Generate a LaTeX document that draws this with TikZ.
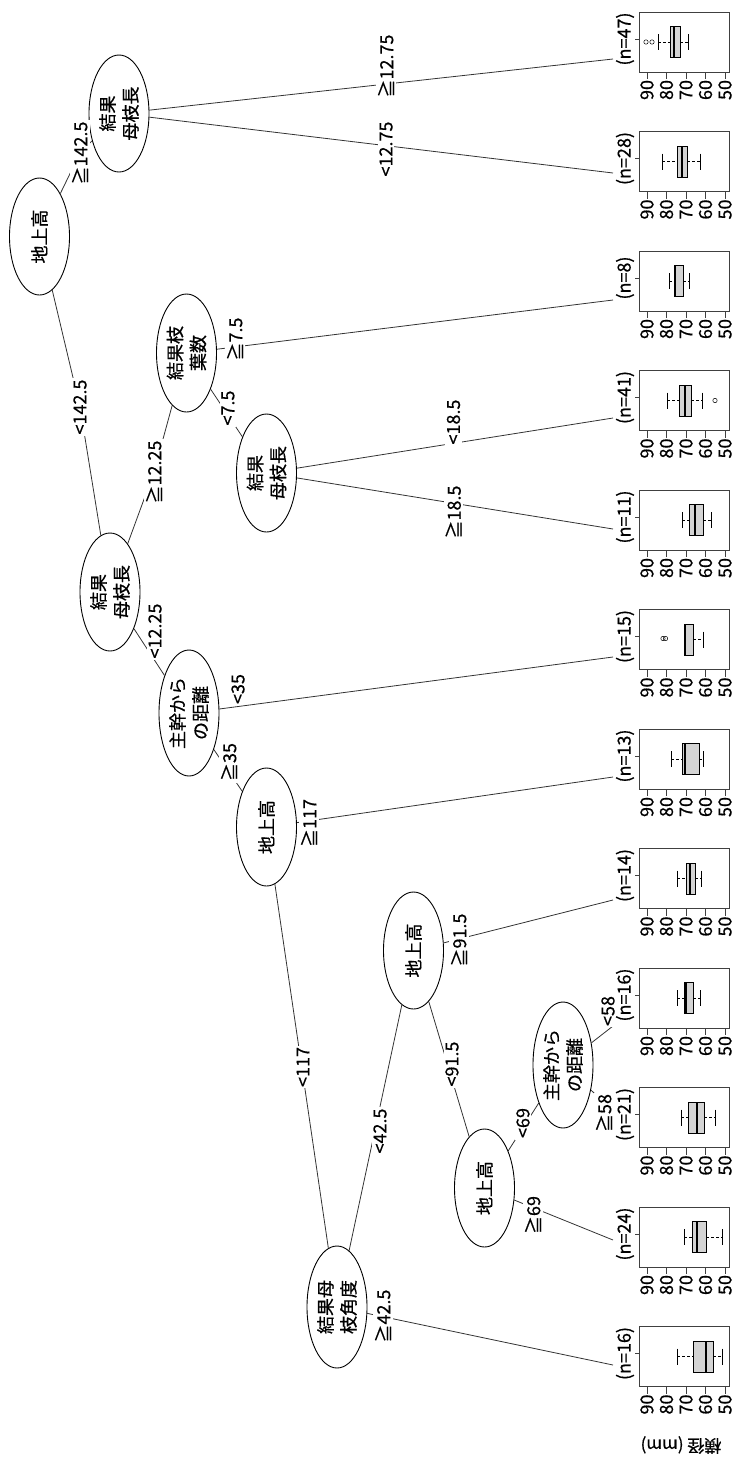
\documentclass[tikz,border=0pt]{standalone}
\usepackage{fontspec}
\setmainfont{Noto Sans CJK JP}[FakeBold=0.6]
\usetikzlibrary{shapes.geometric,backgrounds}
\begin{document}
\begin{tikzpicture}[x=1pt,y=-1pt,
  every node/.style={font=\fontsize{18pt}{23pt}\selectfont},
  edge/.style={draw=black!80, line width=0.8pt},
  lbl/.style={rotate=90, fill=white, inner sep=1.5pt},
  split/.style={ellipse, draw=black, line width=0.9pt, fill=white, rotate=90,
    align=center, inner sep=0pt, minimum height=60pt},
  frame/.style={draw=black!75, line width=0.8pt},
  whisk/.style={line width=0.8pt, dash pattern=on 3pt off 2pt},
  boxp/.style={draw=black, line width=0.8pt, fill=black!17},
  med/.style={line width=2pt},
  outl/.style={draw=black, line width=0.5pt},
  ticklab/.style={rotate=90, inner sep=0pt, font=\fontsize{18pt}{20pt}\selectfont},
]
\useasboundingbox (0,0) rectangle (737,1457);

% inner nodes
\node[split, minimum width=117pt] (r)   at (39.5,236.5) {地上高};
\node[split, minimum width=117pt] (n2)  at (119,113.5)  {結果\\母枝長};
\node[split, minimum width=118pt] (n3)  at (110,592)    {結果\\母枝長};
\node[split, minimum width=118pt] (n4)  at (186.5,353)  {結果枝\\葉数};
\node[split, minimum width=118pt] (n5)  at (266.5,473)  {結果\\母枝長};
\node[split, minimum width=126pt] (n6)  at (189,713)    {主幹から\\の距離};
\node[split, minimum width=118pt] (n7)  at (266.5,827)  {地上高};
\node[split, minimum width=117pt] (n8)  at (413.5,950.5){地上高};
\node[split, minimum width=126pt] (n9)  at (563,1065)   {主幹から\\の距離};
\node[split, minimum width=118pt] (n10) at (484.5,1188) {地上高};
\node[split, minimum width=122pt] (n12) at (337,1307)   {結果母\\枝角度};

% edge labels
\node[lbl] (l1)  at (80,153)    {≧142.5};
\node[lbl] (l2)  at (80,407)    {<142.5};
\node[lbl] (l3)  at (386,66)    {≧12.75};
\node[lbl] (l4)  at (386,149)   {<12.75};
\node[lbl] (l5)  at (154,472)   {≧12.25};
\node[lbl] (l6)  at (155,631)   {<12.25};
\node[lbl] (l7)  at (235,339)   {≧7.5};
\node[lbl] (l8)  at (228,408)   {<7.5};
\node[lbl] (l9)  at (453.5,422) {<18.5};
\node[lbl] (l10) at (453.5,512) {≧18.5};
\node[lbl] (l11) at (238,689)   {<35};
\node[lbl] (l12) at (229,762)   {≧35};
\node[lbl] (l13) at (309,823)   {≧117};
\node[lbl] (l14) at (303,1067)  {<117};
\node[lbl] (l15) at (380,1131)  {<42.5};
\node[lbl] (l16) at (383,1316)  {≧42.5};
\node[lbl] (l17) at (459,940)   {≧91.5};
\node[lbl] (l18) at (452,1064)  {<91.5};
\node[lbl] (l19) at (523,1123)  {<69};
\node[lbl] (l20) at (533,1215)  {≧69};
\node[lbl] (l21) at (608,1011)  {<58};
\node[lbl] (l22) at (604,1113)  {≧58};

% terminal panels
\foreach \k/\n/\e/\wl/\qa/\md/\qb/\wr in {
  0/47/59/658/670/674/680/688,
  1/28/173/662/677/682/687/700,
  2/8/300/669/674/675/683/689,
  3/41/418/667/679/685/691/702,
  4/11/529/682/689/695/703/711,
  5/15/657/684/684/685/693/703,
  6/13/777/671/682/685/699/703,
  7/14/900/677/686/690/695/701,
  8/16/1026/677/684/686/693/700,
  9/21/1110/681/688/697/704/715,
  10/24/1240/684/692/697/706/722,
  11/16/1365/677/693/706/713/722}{
  \pgfmathsetmacro\tp{12+119.5*\k}
  \coordinate (e\k) at (613,\e);
  \node[rotate=90, inner sep=0pt] (nl\k) at (625,\tp+27) {(n=\n)};
  \draw[frame] (639,\tp) rectangle (729,\tp+60);
  \draw[frame] (635,\tp+27) -- (639,\tp+27);
  \foreach \v/\xx in {90/647,80/666.5,70/686,60/705.5,50/725}{
    \draw[frame] (\xx,\tp+60) -- (\xx,\tp+67);
    \node[ticklab] (tk\k-\v) at (\xx,\tp+78) {\v};
  }
  \draw[whisk] (\wl,\tp+30) -- (\qa,\tp+30);
  \draw[whisk] (\qb,\tp+30) -- (\wr,\tp+30);
  \draw[line width=0.8pt] (\wl,\tp+22) -- (\wl,\tp+38);
  \draw[line width=0.8pt] (\wr,\tp+22) -- (\wr,\tp+38);
  \draw[boxp] (\qa,\tp+14.5) rectangle (\qb,\tp+45.5);
  \draw[med] (\md,\tp+14.5) -- (\md,\tp+45.5);
}
% outliers
\draw[outl] (646,42) circle (2.2pt) (652,42) circle (2.2pt);
\draw[outl] (715,400.5) circle (2.2pt);
\draw[outl] (663,638.5) circle (2.2pt) (665.5,638.5) circle (2.2pt);

% axis title
\node[rotate=180, font=\fontsize{17pt}{20pt}\selectfont] (ylab) at (681,1445) {横径 (mm)};

% connectors
\begin{scope}[on background layer]
\draw[edge] (r) -- (l1.center) -- (n2);
\draw[edge] (r) -- (l2.center) -- (n3);
\draw[edge] (n2) -- (e0);
\draw[edge] (n2) -- (e1);
\draw[edge] (n3) -- (l5.center) -- (n4);
\draw[edge] (n3) -- (n6);
\draw[edge] (n4) -- (e2);
\draw[edge] (n4) -- (n5);
\draw[edge] (n5) -- (e3);
\draw[edge] (n5) -- (e4);
\draw[edge] (n6) -- (e5);
\draw[edge] (n6) -- (n7);
\draw[edge] (n7) -- (e6);
\draw[edge] (n7) -- (n12);
\draw[edge] (n12) -- (n8);
\draw[edge] (n12) -- (e11);
\draw[edge] (n8) -- (e7);
\draw[edge] (n8) -- (n10);
\draw[edge] (n10) -- (n9);
\draw[edge] (n10) -- (e10);
\draw[edge] (n9) -- (e8);
\draw[edge] (n9) -- (e9);
\end{scope}
\end{tikzpicture}
\end{document}
